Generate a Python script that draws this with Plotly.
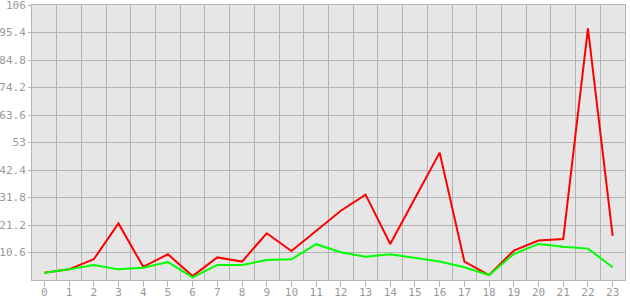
import plotly.graph_objects as go

hours = list(range(24))
red_values = [2.8, 4.1, 8.0, 21.8, 5.1, 9.9, 1.5, 8.7, 7.1, 18.0, 11.2, 19.0, 26.7, 32.9,
              13.9, 31.5, 49.1, 7.1, 1.9, 11.3, 15.2, 15.8, 97.0, 17.0]
green_values = [2.8, 4.1, 5.8, 4.1, 4.7, 6.9, 1.0, 5.8, 5.8, 7.7, 8.0, 13.8, 10.7, 9.0,
                9.9, 8.5, 7.1, 4.9, 1.9, 10.0, 13.9, 12.8, 12.1, 4.9]
y_ticks = [10.6, 21.2, 31.8, 42.4, 53, 63.6, 74.2, 84.8, 95.4, 106]
y_labels = ["10.6", "21.2", "31.8", "42.4", "53", "63.6", "74.2", "84.8", "95.4", "106"]

GRID = "#b4b4b4"
TXT = "#999999"
FONT = dict(family="DejaVu Sans Mono", size=11, color=TXT)

fig = go.Figure()
fig.add_trace(go.Scatter(x=hours, y=red_values, mode="lines",
                         line=dict(color="#ff0000", width=2), showlegend=False))
fig.add_trace(go.Scatter(x=hours, y=green_values, mode="lines",
                         line=dict(color="#00ff00", width=2), showlegend=False))

fig.update_layout(
    width=630, height=300,
    margin=dict(l=32, r=5, t=5, b=20, autoexpand=False),
    paper_bgcolor="white",
    plot_bgcolor="#e6e6e6",
    font=FONT,
    xaxis=dict(
        range=[-0.5, 23.5], tickvals=hours, ticktext=[str(h) for h in hours],
        showgrid=False, ticks="outside", ticklen=6, tickcolor=GRID, tickwidth=1,
        showline=True, linecolor=GRID, linewidth=1, mirror=True, zeroline=False,
        minor=dict(tickvals=[h + 0.5 for h in hours[:-1]], showgrid=True,
                   gridcolor=GRID, gridwidth=1, ticks=""),
        tickfont=FONT, fixedrange=True, automargin=False,
        ticklabelstandoff=-4,
    ),
    yaxis=dict(
        range=[0, 106], tickvals=y_ticks, ticktext=y_labels,
        showgrid=True, gridcolor=GRID, gridwidth=1,
        ticks="outside", ticklen=3, tickcolor=GRID,
        showline=True, linecolor=GRID, linewidth=1, mirror=True, zeroline=False,
        tickfont=FONT, fixedrange=True, automargin=False,
        ticklabeloverflow="allow",
    ),
)

fig.write_html("out.html")
